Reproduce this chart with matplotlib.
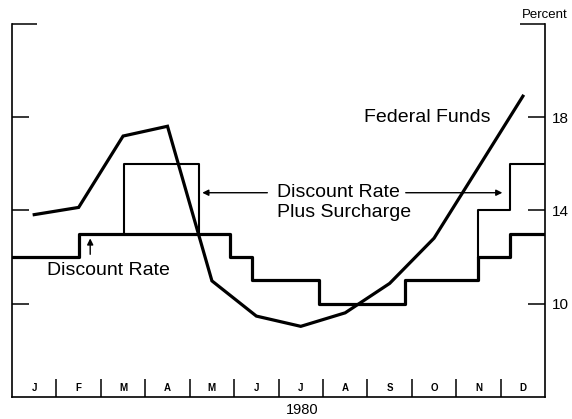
import numpy as np
import matplotlib
matplotlib.use("Agg")
import matplotlib.pyplot as plt

plt.rcParams['font.family'] = ['Liberation Sans', 'DejaVu Sans']

# monthly averages, plotted at mid-month
months = ['J', 'F', 'M', 'A', 'M', 'J', 'J', 'A', 'S', 'O', 'N', 'D']
fed_funds = [13.82, 14.13, 17.19, 17.61, 10.98, 9.47, 9.03, 9.61, 10.87, 12.81, 15.85, 18.90]

# discount rate changes (time in months from Jan 1)
dr_dates = [0, 1.5, 4.9, 5.4, 6.9, 8.85, 10.5, 11.2, 12]
dr_rates = [12, 13, 12, 11, 10, 11, 12, 13, 13]

# discount rate plus surcharge, two episodes
sur1_dates = [2.52, 4.21]
sur1_rates = [16]
sur2_dates = [10.5, 11.2, 12]
sur2_rates = [14, 16, 16]

yticks = [10, 14, 18]

fig = plt.figure(figsize=(5.72, 4.19), dpi=100)
ax = fig.add_axes([0.021, 0.0525, 0.932, 0.8905])

x_ff = np.arange(len(fed_funds)) + 0.5
ax.plot(x_ff, fed_funds, color='black', lw=2.3, solid_joinstyle='miter')
ax.step(dr_dates, dr_rates, where='post', color='black', lw=2.3)


def base_rate(t):
    idx = np.searchsorted(dr_dates, t, side='right') - 1
    return dr_rates[max(idx, 0)]


# episode 1: up from discount rate, back down at the end
xs = [sur1_dates[0], sur1_dates[0], sur1_dates[1], sur1_dates[1]]
ys = [base_rate(sur1_dates[0]), sur1_rates[0], sur1_rates[0], base_rate(sur1_dates[1])]
ax.plot(xs, ys, color='black', lw=1.5)
# episode 2: runs to the end of the year
xs = [sur2_dates[0]]
ys = [base_rate(sur2_dates[0])]
for i in range(len(sur2_rates) - 1):
    xs += [sur2_dates[i], sur2_dates[i + 1]]
    ys += [sur2_rates[i], sur2_rates[i]]
xs.append(sur2_dates[-1])
ys.append(sur2_rates[-1])
ax.plot(xs, ys, color='black', lw=1.5)

ax.set_xlim(0, 12)
ax.set_ylim(6, 22)

for s in ['left', 'right', 'bottom']:
    ax.spines[s].set_linewidth(1.2)
ax.spines['top'].set_visible(False)

ax.set_xticks(np.arange(1, 12))
ax.set_xticklabels([])
ax.tick_params(axis='x', direction='in', length=13, width=1.1, top=False)
ax.set_yticks(yticks)
ax.set_yticks([22], minor=True)
ax.tick_params(axis='y', which='both', direction='in', left=True, right=True,
               labelleft=False, labelright=True, width=1.1, labelsize=11, pad=5)
ax.tick_params(axis='y', which='major', length=12)
ax.tick_params(axis='y', which='minor', length=18)

for i, m in enumerate(months):
    ax.text(i + 0.5, 6.4, m, ha='center', va='center', fontsize=7, fontweight='bold')

ax.text(6.53, -0.035, '1980', transform=ax.get_xaxis_transform(),
        ha='center', va='center', fontsize=10.5)
ax.text(1.0, 1.025, 'Percent', transform=ax.transAxes, ha='center', va='center', fontsize=9.5)

ax.text(10.76, 18.0, 'Federal Funds', ha='right', va='center', fontsize=14)

ax.text(0.79, 11.43, 'Discount Rate', ha='left', va='center', fontsize=14)
ax.annotate('', xy=(1.76, 12.92), xytext=(1.76, 12.0),
            arrowprops=dict(arrowstyle='-|>', color='black', lw=1.0, mutation_scale=9))

ax.text(5.97, 14.76, 'Discount Rate', ha='left', va='center', fontsize=14)
ax.text(5.97, 13.9, 'Plus Surcharge', ha='left', va='center', fontsize=14)
ax.annotate('', xy=(4.22, 14.76), xytext=(5.81, 14.76),
            arrowprops=dict(arrowstyle='-|>', color='black', lw=1.0, mutation_scale=9))
ax.annotate('', xy=(11.1, 14.76), xytext=(8.8, 14.76),
            arrowprops=dict(arrowstyle='-|>', color='black', lw=1.0, mutation_scale=9))

fig.savefig('out.png', dpi=100)
